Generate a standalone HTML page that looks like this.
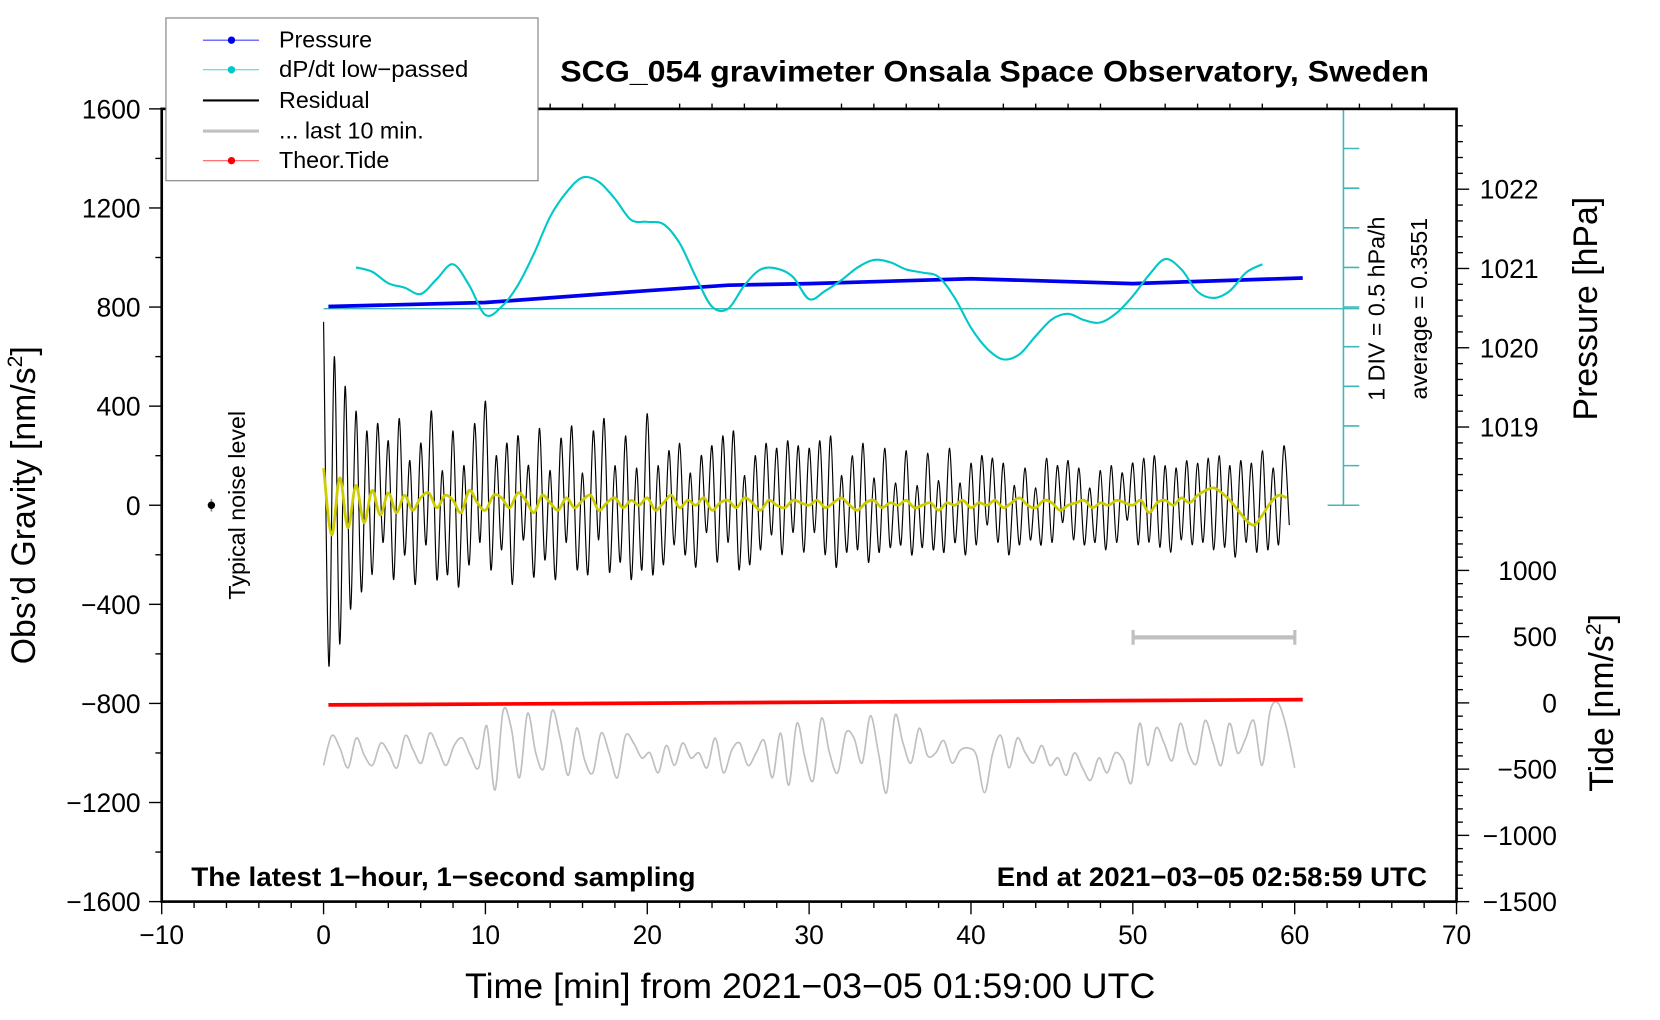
<!DOCTYPE html>
<html><head><meta charset="utf-8">
<style>
html,body{margin:0;padding:0;background:#fff;}
svg{display:block;}
text{font-family:"Liberation Sans",sans-serif;fill:#000;}
</style></head>
<body>
<svg id="chart" width="1660" height="1020" viewBox="0 0 1570.5 965" xmlns="http://www.w3.org/2000/svg">
<g id="marks"></g>
<g id="axes"></g>
</svg>
<script>
// ---- data ----
const xTicks = [-10,0,10,20,30,40,50,60,70];
const gravTicks = [1600,1200,800,400,0,-400,-800,-1200,-1600];
const pressTicks = [1022,1021,1020,1019];
const tideTicks = [1000,500,0,-500,-1000,-1500];
const pressTime = [0.3,10,20,25,30,40,50,60.5];
const pressVals = [1020.52,1020.57,1020.72,1020.79,1020.81,1020.87,1020.81,1020.88];
const dpdtTime = [];
for (let m=2;m<=58;m++) dpdtTime.push(m);
const dpdtVals = [0.875,0.82,0.675,0.62,0.54,0.73,0.915,0.65,0.275,0.38,0.65,1.05,1.515,1.82,2.01,1.955,1.74,1.475,1.45,1.42,1.18,0.755,0.38,0.355,0.65,0.85,0.86,0.755,0.475,0.58,0.715,0.875,0.97,0.94,0.85,0.81,0.755,0.49,0.115,-0.15,-0.285,-0.22,0.01,0.22,0.29,0.21,0.18,0.30,0.515,0.78,0.98,0.85,0.57,0.49,0.58,0.81,0.915];
const dpdtAverage = 0.3551;
const residVals = [740,-650,600,-560,480,-420,380,-350,300,
-280,330,-150,260,-300,350,-200,180,-320,250,-160,380,-300,140,-280,300,-330,160,-240,330,-150,
420,-260,200,-180,250,-320,280,-140,160,-290,310,-220,140,-300,270,-150,320,-260,130,-280,300,-140,350,-270,160,-230,280,-300,150,-260,
370,-280,160,-240,220,-160,250,-200,130,-250,200,-110,240,-230,280,-150,300,-260,120,-240,200,-180,250,-120,230,-200,260,-110,240,-190,
230,-110,260,-200,280,-250,120,-190,200,-180,250,-230,110,-190,230,-170,90,-160,220,-200,80,-170,210,-180,100,-190,230,-150,90,-200,
170,-160,200,-80,190,-150,170,-200,80,-160,150,-140,70,-160,190,-150,160,-70,180,-140,150,-160,70,-150,140,-180,160,-150,130,-60,
170,-160,190,-150,200,-170,160,-190,150,-140,180,-160,170,-150,190,-180,200,-170,160,-210,180,-150,170,-190,220,-180,150,-160,240,-80];
const smoothVals = [150,-120,110,-90,80,-70,60,-40,50,-30,
40,-20,30,50,-10,40,20,-30,60,10,
-20,40,30,-10,50,20,-30,40,10,-20,30,-10,20,40,-20,10,30,-10,20,0,
30,-20,10,40,-10,20,0,30,-20,10,20,-10,30,10,-20,20,0,-10,20,10,
0,20,-10,10,30,0,-20,10,20,-10,10,0,20,-10,0,10,-20,10,0,20,
-10,10,0,20,-10,10,30,0,-10,20,10,-20,0,10,20,-10,10,0,20,10,
0,20,-30,10,20,0,30,10,40,60,70,50,20,-20,-60,-80,-40,10,40,30];
const lastTenVals = [-1050,-930,-980,-1060,-940,-1010,-1050,-960,-1000,-1060,-930,-990,-1040,-920,-980,-1050,-970,-940,-1010,-1060,
-890,-1150,-830,-900,-1100,-840,-1000,-1060,-830,-940,-1090,-900,-1030,-1080,-920,-1000,-1100,-930,-960,-1020,
-1000,-1080,-970,-1050,-960,-1020,-1000,-1060,-940,-1080,-990,-960,-1050,-1000,-950,-1100,-920,-1130,-880,-1020,
-1110,-860,-1000,-1080,-920,-940,-1040,-850,-1000,-1160,-850,-960,-1040,-900,-1010,-1000,-950,-1040,-990,-980,
-1010,-1160,-1000,-930,-1060,-940,-1000,-1040,-970,-1050,-1020,-1090,-1000,-1060,-1110,-1020,-1080,-1000,-1030,-1120,
-880,-1050,-900,-960,-1030,-880,-1000,-1040,-870,-960,-1050,-880,-1000,-940,-870,-1050,-830,-800,-900,-1060];
const tideTime = [0.3,30,60.5];
const tideVals = [-15,5,25];

// ---- scales (viewBox coords) ----
const L=153,R=1378,T=103,B=853;
const X = t => L + (t+10)/80*(R-L);
const YG = g => 478 - g*(375/1600);
const YP = p => 329 - (p-1020)*75;
const YT = v => 665 - v*(188/1500);
const YD = v => 292 - (v-dpdtAverage)*75;
const NS="http://www.w3.org/2000/svg";
const marks=document.getElementById('marks'), axes=document.getElementById('axes');
function el(tag, attrs, parent, txt){const e=document.createElementNS(NS,tag);for(const k in attrs)e.setAttribute(k,attrs[k]);if(txt!==undefined)e.textContent=txt;(parent||axes).appendChild(e);return e;}
function pathFrom(pts){return pts.map((p,i)=>(i?'L':'M')+p[0].toFixed(1)+' '+p[1].toFixed(1)).join(' ');}
function smoothPath(pts){let d='M'+pts[0][0]+' '+pts[0][1];for(let i=0;i<pts.length-1;i++){const p0=pts[Math.max(0,i-1)],p1=pts[i],p2=pts[i+1],p3=pts[Math.min(pts.length-1,i+2)];const c1=[p1[0]+(p2[0]-p0[0])/6,p1[1]+(p2[1]-p0[1])/6],c2=[p2[0]-(p3[0]-p1[0])/6,p2[1]-(p3[1]-p1[1])/6];d+=` C${c1[0].toFixed(1)} ${c1[1].toFixed(1)} ${c2[0].toFixed(1)} ${c2[1].toFixed(1)} ${p2[0].toFixed(1)} ${p2[1].toFixed(1)}`;}return d;}

// cyan scale bar
let s=el('line',{x1:1271,y1:T,x2:1271,y2:478,stroke:'#40b8b8','stroke-width':1.5},marks);

for(let i=0;i<=10;i++){const y=T+i*37.5;const w=(i==0||i==10)?15:0;el('line',{x1:1271-w,y1:y,x2:1286,y2:y,stroke:'#40b8b8','stroke-width':1.5},marks);}
s=el('line',{x1:X(0),y1:YD(dpdtAverage),x2:1286,y2:YD(dpdtAverage),stroke:'#40b8b8','stroke-width':1.3},marks);


// grey last 10 min
s=el('path',{d:smoothPath(lastTenVals.map((v,i)=>[X(i*60/(lastTenVals.length-1)),YG(v)])),fill:'none',stroke:'#c0c0c0','stroke-width':1.6},marks);

// residual
s=el('path',{d:smoothPath(residVals.map((v,i)=>[X(i/3),YG(v)])),fill:'none',stroke:'#000','stroke-width':1.1},marks);

s=el('path',{d:smoothPath(smoothVals.map((v,i)=>[X(i/2),YG(v)])),fill:'none',stroke:'#cccc00','stroke-width':2.6},marks);

// pressure
s=el('path',{d:pathFrom(pressTime.map((t,i)=>[X(t),YP(pressVals[i])])),fill:'none',stroke:'#0000ee','stroke-width':3.5},marks);

// dpdt
s=el('path',{d:smoothPath(dpdtTime.map((t,i)=>[X(t),YD(dpdtVals[i])])),fill:'none',stroke:'#00c8c8','stroke-width':2},marks);

// tide
s=el('path',{d:pathFrom(tideTime.map((t,i)=>[X(t),YT(tideVals[i])])),fill:'none',stroke:'#ff0000','stroke-width':3.5},marks);


// frame
s=el('rect',{x:L,y:T,width:R-L,height:B-T,fill:'none',stroke:'#000','stroke-width':2.5});

// x ticks
for(let t=-10;t<=70;t+=2){const maj=t%10==0;el('line',{x1:X(t),y1:B,x2:X(t),y2:B+(maj?12:6),stroke:'#000','stroke-width':1.3});el('line',{x1:X(t),y1:T,x2:X(t),y2:T-(maj?0:5),stroke:'#000','stroke-width':1.3});}
xTicks.forEach(t=>{const e=el('text',{x:X(t),y:893,'font-size':25,'text-anchor':'middle'},axes,String(t).replace('-','\u2212'));
});
// left ticks
for(let g=-1600;g<=1600;g+=200){const maj=g%400==0;el('line',{x1:L,y1:YG(g),x2:L-(maj?12:6),y2:YG(g),stroke:'#000','stroke-width':1.3});}
gravTicks.forEach(g=>{const e=el('text',{x:133,y:YG(g)+9,'font-size':25,'text-anchor':'end'},axes,String(g).replace('-','\u2212'));
});
// right pressure ticks
for(let p=1018;p<=1023;p+=0.2){const y=YP(p);if(y<T-1||y>478)continue;const maj=Math.abs(p-Math.round(p))<0.01;el('line',{x1:R,y1:y,x2:R+(maj?12:6),y2:y,stroke:'#000','stroke-width':1.3});}
pressTicks.forEach(p=>{const e=el('text',{x:1400,y:YP(p)+9,'font-size':25},axes,String(p));
});
for(let v=1400;v>=-1500;v-=100){const y=YT(v);if(y<480)continue;const maj=v%500==0;el('line',{x1:R,y1:y,x2:R+(maj?12:6),y2:y,stroke:'#000','stroke-width':1.3});}
tideTicks.forEach(v=>{const e=el('text',{x:1473,y:YT(v)+9,'font-size':25,'text-anchor':'end'},axes,String(v).replace('-','\u2212'));
});

// noise level
el('line',{x1:200,y1:472,x2:200,y2:484,stroke:'#888','stroke-width':1.5});
el('circle',{cx:200,cy:478,r:3.5,fill:'#000'});
// grey bracket
s=el('line',{x1:1072,y1:603,x2:1225,y2:603,stroke:'#c0c0c0','stroke-width':4});

el('line',{x1:1072,y1:596,x2:1072,y2:610,stroke:'#c0c0c0','stroke-width':3});
el('line',{x1:1225,y1:596,x2:1225,y2:610,stroke:'#c0c0c0','stroke-width':3});
</script>
<svg style="position:absolute;left:0;top:0" width="1660" height="1020" viewBox="0 0 1570.5 965" xmlns="http://www.w3.org/2000/svg">
<text x="530" y="77" font-size="28" font-weight="bold" textLength="822" lengthAdjust="spacingAndGlyphs">SCG_054 gravimeter Onsala Space Observatory, Sweden</text>
<text x="440" y="944" font-size="33" textLength="653" lengthAdjust="spacingAndGlyphs">Time [min] from 2021−03−05 01:59:00 UTC</text>
<text transform="translate(33,478) rotate(-90)" font-size="32" text-anchor="middle">Obs’d Gravity [nm/s<tspan font-size="20" dy="-12">2</tspan><tspan dy="12">]</tspan></text>
<text transform="translate(1511,292) rotate(-90)" font-size="32" text-anchor="middle">Pressure [hPa]</text>
<text transform="translate(1526,665) rotate(-90)" font-size="32" text-anchor="middle">Tide [nm/s<tspan font-size="20" dy="-12">2</tspan><tspan dy="12">]</tspan></text>
<text transform="translate(1310,292) rotate(-90)" font-size="22" text-anchor="middle">1 DIV = 0.5 hPa/h</text>
<text transform="translate(1350,292) rotate(-90)" font-size="22" text-anchor="middle">average = 0.3551</text>
<text transform="translate(232,478) rotate(-90)" font-size="22" text-anchor="middle">Typical noise level</text>
<text x="181" y="838" font-size="25" font-weight="bold" textLength="477" lengthAdjust="spacingAndGlyphs">The latest 1−hour, 1−second sampling</text>
<text x="943" y="838" font-size="25" font-weight="bold" textLength="407" lengthAdjust="spacingAndGlyphs">End at 2021−03−05 02:58:59 UTC</text>
<g>
<rect x="157" y="17" width="352" height="154" fill="#fff" stroke="#777" stroke-width="1"/>
<g><line x1="192" y1="38" x2="245" y2="38" stroke="#4040ff" stroke-width="1"/><circle cx="219" cy="38" r="3.5" fill="#0000ee"/><text x="264" y="45" font-size="22">Pressure</text></g>
<g><line x1="192" y1="66" x2="245" y2="66" stroke="#40d0d0" stroke-width="1"/><circle cx="219" cy="66" r="3.5" fill="#00c8c8"/><text x="264" y="73" font-size="22" textLength="179" lengthAdjust="spacingAndGlyphs">dP/dt low−passed</text></g>
<g><line x1="192" y1="95" x2="245" y2="95" stroke="#000" stroke-width="2"/><text x="264" y="102" font-size="22">Residual</text></g>
<g><line x1="192" y1="124" x2="245" y2="124" stroke="#c0c0c0" stroke-width="3"/><text x="264" y="131" font-size="22">... last 10 min.</text></g>
<g><line x1="192" y1="152" x2="245" y2="152" stroke="#ff6060" stroke-width="1"/><circle cx="219" cy="152" r="3.5" fill="#ff0000"/><text x="264" y="159" font-size="22">Theor.Tide</text></g>
</g>
</svg>
</body></html>
